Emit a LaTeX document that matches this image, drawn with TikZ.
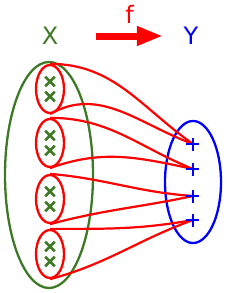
\documentclass[tikz,border=0pt]{standalone}
\usepackage{fontspec}
\setmainfont{DejaVu Sans}
\usetikzlibrary{shapes.geometric, shapes.misc, arrows.meta}
\definecolor{setgreen}{RGB}{62,122,38}
\tikzset{
  setx/.style={ellipse, draw=setgreen, line width=2.3pt, minimum width=88pt, minimum height=226pt, inner sep=0pt},
  sety/.style={ellipse, draw=blue, line width=2.3pt, minimum width=56pt, minimum height=122pt, inner sep=0pt},
  fiber/.style={ellipse, draw=red, line width=2.3pt, minimum width=28pt, minimum height=48pt, inner sep=0pt},
  elem/.style={cross out, draw=setgreen, line width=2.6pt, minimum size=7pt, inner sep=0pt},
  img/.style={blue, line width=2.8pt},
  link/.style={red, line width=2.2pt},
  bigtext/.style={font=\fontsize{24}{27}\selectfont}
}
\begin{document}
\begin{tikzpicture}[x=1pt, y=1pt]
        \useasboundingbox (0,0) rectangle (226,293);

        \node (X) [bigtext, text=setgreen] at (50,257) {X};
        \node (Y) [bigtext, text=blue] at (191,257) {Y};
        \coordinate (fstart) at (96,257);
        \coordinate (fend) at (163,257);
        \draw [red, line width=7pt, -{Triangle[length=26pt, width=18pt]}] (fstart) -- node[above=6pt, bigtext, text=red] (f) {f} (fend);

        \node (A) [setx] at (49,118) {};
        \node (B) [sety] at (193,111) {};

        % fibres and their elements
        \foreach \i/\y in {1/204, 2/150, 3/94, 4/39} {
            \node (a\i) [fiber] at (50,\y) {};
            \node (x\i u) [elem] at (50,\y+7.5) {};
            \node (x\i d) [elem] at (50,\y-7.5) {};
        }

        % images in Y
        \foreach \i/\y in {1/149, 2/124, 3/97, 4/73}
            \coordinate (p\i) at (193,\y);

        % each fibre goes to one image
        \draw [link] (a1.north) to[out=0, in=145] (p1);
        \draw [link] (a1.south) to[out=30, in=160] (p1);
        \draw [link] (a2.north) to[out=0, in=158] (p2);
        \draw [link] (a2.south) to[out=20, in=168] (p2);
        \draw [link] (a3.north) to[out=-5, in=176] (p3);
        \draw [link] (a3.south) to[out=15, in=192] (p3);
        \draw [link] (a4.north) to[out=0, in=190] (p4);
        \draw [link] (a4.south) to[out=15, in=200] (p4);

        \foreach \i in {1,...,4}
            \draw [img] (p\i) ++(-6.5,0) -- ++(13,0) (p\i) ++(0,-6.5) -- ++(0,13);

    \end{tikzpicture}
\end{document}
